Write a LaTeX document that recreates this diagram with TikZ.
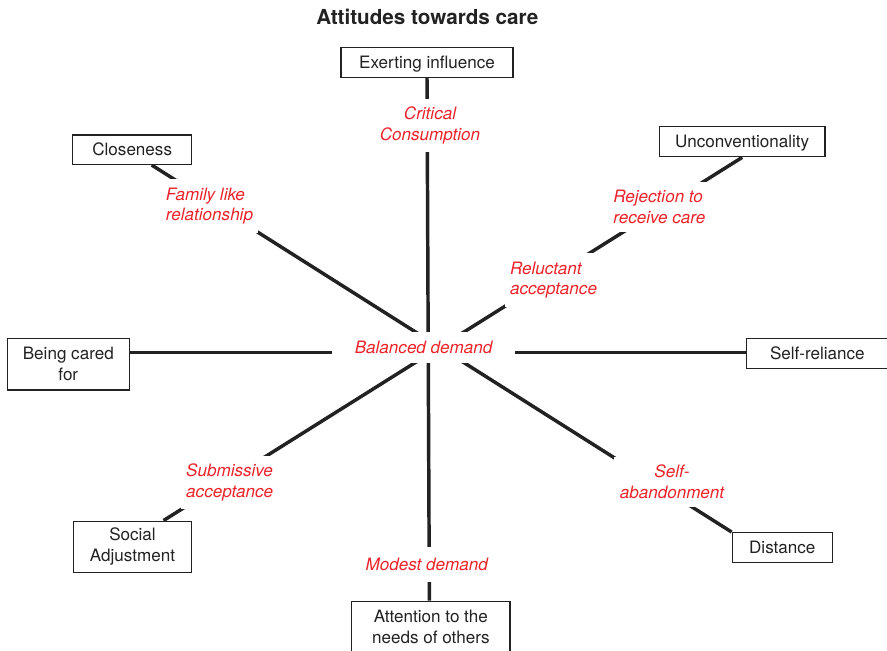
\documentclass[tikz,border=0pt]{standalone}
\usepackage{fontspec}
\setmainfont{TeX Gyre Heros}
\usetikzlibrary{backgrounds,calc}
\definecolor{labred}{RGB}{236,34,42}
\definecolor{ink}{RGB}{34,34,34}

\begin{document}
\begin{tikzpicture}[x=0.75pt,y=-0.75pt,
  every node/.style={font=\fontsize{12.8}{15.5}\selectfont, text=ink},
  box/.style={draw=ink, line width=1pt, fill=white, inner sep=0pt, align=center},
  onebox/.style={box, text height=9.2pt, text depth=0pt, minimum height=22.5pt},
  lab/.style={fill=white, text=labred, font=\fontsize{12.8}{15.5}\selectfont\itshape,
              inner xsep=4pt, inner ysep=6.2pt},
  spoke/.style={draw=ink, line width=2.6pt}]

\useasboundingbox (0,0) rectangle (887,650);
\clip (0,0) rectangle (887,650);

% title
\node[font=\fontsize{15.5}{18}\selectfont\bfseries] (title) at (427.3,17) {Attitudes towards care};

% outer attitude boxes
\node[onebox, minimum width=129pt]                        (exert) at (427,62.3)    {Exerting influence};
\node[onebox, minimum width=89.25pt, minimum height=22pt] (clo)   at (132.2,149.7) {Closeness};
\node[onebox, minimum width=124.3pt]                      (unc)   at (742.2,141.7) {Unconventionality};
\node[box, minimum width=91.5pt,  minimum height=38.8pt]  (bcf)   at (68.3,364.2)  {Being cared\\for};
\node[onebox, anchor=west, align=left, text width=120pt, inner xsep=17.5pt]
                                                          (srel)  at (746,353.3)   {Self-reliance};
\node[box, minimum width=88.8pt,  minimum height=38.25pt] (soc)   at (132.5,546.7) {Social\\Adjustment};
\node[onebox, minimum width=75pt]                         (dist)  at (782.3,547.7) {Distance};
\node[box, minimum width=118.7pt, minimum height=38.5pt, anchor=north] (att) at (430.85,600.7)
      {Attention to the\\needs of others};

% demand labels on the spokes
\node[lab, align=center] (crit) at (430,125.5)   {Critical\\Consumption};
\node[lab, align=left]   (fam)  at (209.5,206)   {Family like\\relationship};
\node[lab, align=left]   (rej)  at (659.3,207)   {Rejection to\\receive care};
\node[lab, align=left]   (rel)  at (553.5,280)   {Reluctant\\acceptance};
\node[lab, align=left]   (sub)  at (229.7,482.5) {Submissive\\acceptance};
\node[lab, align=center] (aban) at (672,482)     {Self-\\abandonment};
\node[lab, inner sep=0pt, minimum width=137pt, minimum height=23.7pt] (bal) at (423.6,347.5) {Balanced demand};
\node[lab, inner ysep=0pt, minimum height=25.8pt] (mod) at (426.7,564.5) {Modest demand};

% spokes through the centre
\coordinate (cH) at (428,352.7);
\begin{scope}[on background layer]
  \draw[spoke] (exert.south) -- ($(att.north)+(-1.5,0)$);
  \draw[spoke] (bcf.east |- cH) -- (srel.west |- cH);
  \draw[spoke] ($(clo.south)+(19.5,0)$) -- (dist.north west);
  \draw[spoke] (unc.south) -- ($(soc.north)+(31,0)$);
\end{scope}
\end{tikzpicture}
\end{document}
